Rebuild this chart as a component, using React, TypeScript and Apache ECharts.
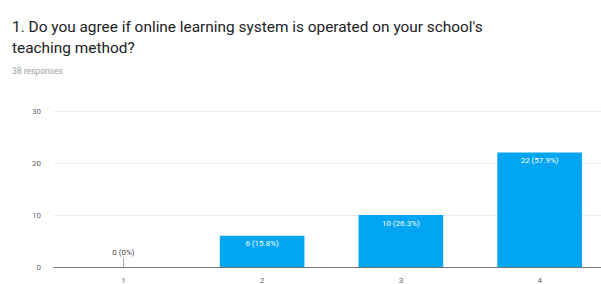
import React, { useEffect, useRef } from "react";
import * as echarts from "echarts";

const titleLines = [
  "1. Do you agree if online learning system is operated on your school's",
  "teaching method?",
];
const subtitle = "38 responses";
const categories = ["1", "2", "3", "4"];
const counts = [0, 6, 10, 22];
const percents = ["0%", "15.8%", "26.3%", "57.9%"];
const yTicks = [0, 10, 20, 30];

export default function App() {
  const ref = useRef<HTMLDivElement>(null);
  useEffect(() => {
    const chart = echarts.init(ref.current!, null, { renderer: "svg" });
    chart.setOption({
      animation: false,
      backgroundColor: "#ffffff",
      textStyle: { fontFamily: "Roboto" },
      graphic: [
        {
          type: "text",
          left: 12,
          top: 16,
          style: {
            text: titleLines.join("\n"),
            fontSize: 15.4,
            lineHeight: 21,
            fill: "#202124",
            fontFamily: "Roboto",
          },
        },
        {
          type: "text",
          left: 12,
          top: 66,
          style: { text: subtitle, fontSize: 8.5, fill: "#9aa0a6", fontFamily: "Roboto" },
        },
      ],
      grid: { left: 54, top: 111, width: 555, height: 159, containLabel: false },
      xAxis: {
        type: "category",
        data: categories,
        axisLine: { lineStyle: { color: "#757575", width: 1 } },
        axisTick: { show: false },
        axisLabel: { color: "#666", fontSize: 8, margin: 9 },
      },
      yAxis: {
        type: "value",
        min: yTicks[0],
        max: yTicks[yTicks.length - 1],
        interval: 10,
        axisLine: { show: false },
        axisTick: { show: false },
        axisLabel: { color: "#666", fontSize: 8, margin: 13 },
        splitLine: { lineStyle: { color: "#ececec" } },
      },
      series: [
        {
          type: "bar",
          barWidth: "61%",
          itemStyle: { color: "#02a5f2" },
          data: counts.map((v) => ({
            value: v,
            label:
              v === 0
                ? { show: true, position: "top", color: "#444", distance: 11 }
                : { show: true, position: "insideTop", color: "#fff", distance: 4 },
          })),
          label: {
            fontSize: 8,
            formatter: (p: any) => `${counts[p.dataIndex]} (${percents[p.dataIndex]})`,
          },
          markLine: {
            silent: true,
            symbol: "none",
            label: { show: false },
            lineStyle: { color: "#aaa", type: "solid", width: 1 },
            data: [[{ coord: [categories[0], 0] }, { coord: [categories[0], 1.8] }]],
          },
        },
      ],
    });
    return () => chart.dispose();
  }, []);
  return (
    <div
      ref={ref}
      style={{ position: "fixed", left: 0, top: 0, width: 620, height: 284 }}
    />
  );
}
